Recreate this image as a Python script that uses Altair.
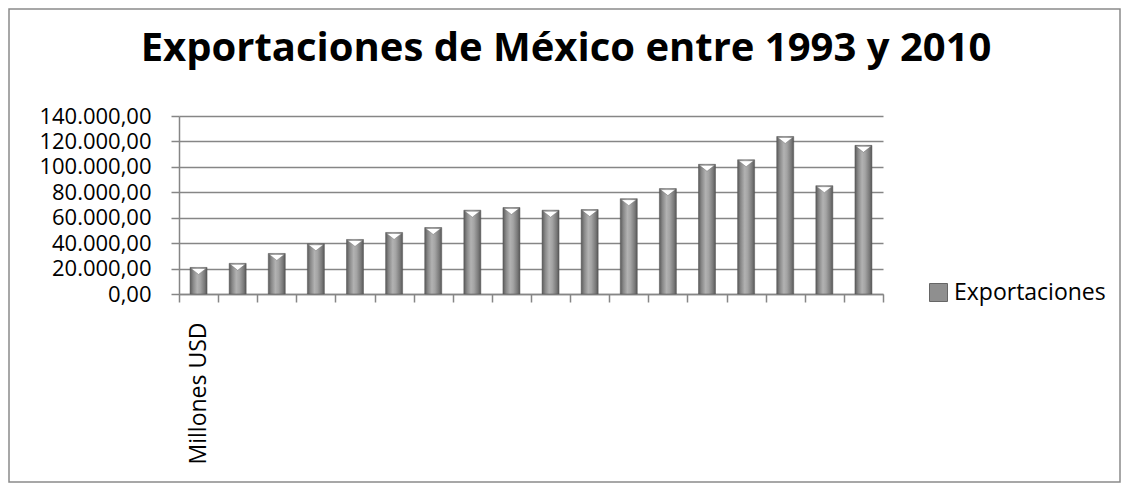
import altair as alt
import pandas as pd

# ---- data ----
years = [1993, 1994, 1995, 1996, 1997, 1998, 1999, 2000, 2001,
         2002, 2003, 2004, 2005, 2006, 2007, 2008, 2009, 2010]
values = [20900, 24100, 31900, 39500, 42900, 48400, 52300, 65900, 68000,
          65900, 66400, 75000, 82900, 102000, 105600, 123900, 85200, 116900]
series_name = "Exportaciones"
category_labels = {1993: "Millones USD"}
y_ticks = [0, 20000, 40000, 60000, 80000, 100000, 120000, 140000]
title_text = "Exportaciones de México entre 1993 y 2010"

df = pd.DataFrame({"year": years, "value": values, "serie": [series_name] * len(years)})
title_df = pd.DataFrame({"t": [title_text]})

FONT = "Open Sans"
GREY = "#868686"

label_expr = " : ".join(
    [f"datum.value == {k} ? '{v}'" for k, v in category_labels.items()] + ["''"]
)

x_enc = alt.X(
    "year:O",
    title=None,
    scale=alt.Scale(paddingInner=0, paddingOuter=0),
    axis=alt.Axis(
        labelExpr=label_expr,
        labelAngle=-90,
        labelFont=FONT,
        labelFontSize=23,
        labelColor="#000000",
        labelPadding=20,
        labelOverlap=False,
        tickBand="extent",
        tickSize=8,
        tickColor=GREY,
        tickWidth=1.5,
        domainColor=GREY,
        domainWidth=1.5,
        grid=False,
    ),
)

y_enc = alt.Y(
    "value:Q",
    title=None,
    scale=alt.Scale(domain=[0, 140000], nice=False),
    axis=alt.Axis(
        values=y_ticks,
        labelExpr="datum.value == 0 ? '0,00' : format(datum.value / 1000, 'd') + '.000,00'",
        labelFont=FONT,
        labelFontSize=22,
        labelColor="#000000",
        labelPadding=20,
        labelOverlap=False,
        labelBound=False,
        labelFlush=False,
        tickSize=8,
        tickColor=GREY,
        tickWidth=1.5,
        domainColor=GREY,
        domainWidth=1.5,
        gridColor=GREY,
        gridWidth=1.5,
    ),
)

bar_gradient = alt.Gradient(
    gradient="linear",
    x1=0, x2=1, y1=0, y2=0,
    stops=[
        alt.GradientStop(color="#5a5a5a", offset=0),
        alt.GradientStop(color="#888888", offset=0.18),
        alt.GradientStop(color="#b2b2b2", offset=0.42),
        alt.GradientStop(color="#a4a4a4", offset=0.6),
        alt.GradientStop(color="#7a7a7a", offset=0.85),
        alt.GradientStop(color="#575757", offset=1),
    ],
)

border = alt.Chart(pd.DataFrame({"k": [0]})).mark_rect(
    fillOpacity=0, stroke="#8a8a8a", strokeWidth=1.5
).encode(
    x=alt.value(-170), x2=alt.value(941), y=alt.value(-107), y2=alt.value(366)
)

title_mark = alt.Chart(title_df).mark_text(
    font=FONT, fontSize=40, fontWeight="bold", color="#000000",
    align="center", baseline="middle"
).encode(text="t:N", x=alt.value(387), y=alt.value(-67))

bars = alt.Chart(df).mark_bar(
    size=17, color=bar_gradient, stroke="#555555", strokeWidth=0.5
).encode(x=x_enc, y=y_enc)

caps = alt.Chart(df).mark_point(
    shape="M-1,-0.4L1,-0.4L0,0.4Z",
    filled=True,
    color="#ffffff",
    opacity=1,
    size=225,
    yOffset=4,
    stroke="#707070",
    strokeWidth=0.5,
).encode(x=x_enc, y=y_enc)

legend_layer = alt.Chart(df).mark_square(opacity=0).encode(
    x=x_enc,
    y=y_enc,
    color=alt.Color(
        "serie:N",
        scale=alt.Scale(range=["#8f8f8f"]),
        legend=alt.Legend(
            title=None,
            orient="none",
            legendX=748,
            legendY=165,
            symbolType="square",
            symbolSize=324,
            symbolOpacity=1,
            symbolFillColor="#8f8f8f",
            symbolStrokeColor="#666666",
            symbolStrokeWidth=1,
            labelFont=FONT,
            labelFontSize=23,
            labelColor="#000000",
            labelOffset=4,
            padding=0,
        ),
    ),
)

chart = alt.layer(border, title_mark, bars, caps, legend_layer).properties(
    width=704,
    height=178,
    autosize=alt.AutoSizeParams(type="none"),
    padding={"left": 171, "top": 108, "right": 238, "bottom": 191},
    background="#ffffff",
).configure_view(strokeWidth=0)

chart.save("out.html", embed_options={"renderer": "svg", "actions": False})
